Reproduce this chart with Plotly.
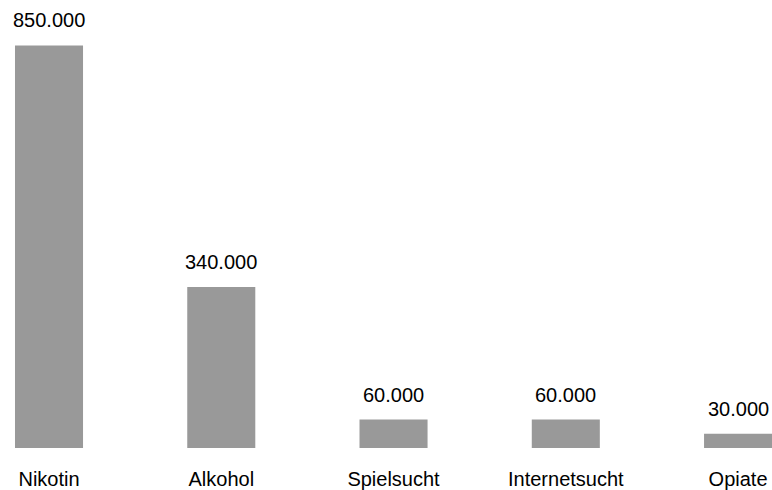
import plotly.graph_objects as go

categories = ["Nikotin", "Alkohol", "Spielsucht", "Internetsucht", "Opiate"]
values = [850000, 340000, 60000, 60000, 30000]
value_labels = ["850.000", "340.000", "60.000", "60.000", "30.000"]

xs = list(range(len(categories)))

fig = go.Figure()
fig.add_trace(go.Bar(
    x=xs, y=values, width=0.395,
    marker=dict(color="#999999", line=dict(width=0)),
    hoverinfo="skip",
))

for x, v, lab in zip(xs, values, value_labels):
    fig.add_annotation(x=x, y=v, text=lab, showarrow=False,
                       yanchor="middle", yshift=25,
                       font=dict(family="Arial, Liberation Sans", size=20, color="#000000"))

fig.update_layout(
    width=772, height=490,
    margin=dict(l=0, r=0, t=0, b=42, pad=0),
    paper_bgcolor="white", plot_bgcolor="white",
    showlegend=False,
    xaxis=dict(range=[-0.2845, 4.197], tickvals=xs, ticktext=categories,
               showgrid=False, zeroline=False, showline=False, ticks="",
               ticklabelstandoff=17,
               tickfont=dict(family="Arial, Liberation Sans", size=20, color="#000000")),
    yaxis=dict(range=[0, 946000], visible=False, showgrid=False, zeroline=False),
)

fig.write_html("out.html")
